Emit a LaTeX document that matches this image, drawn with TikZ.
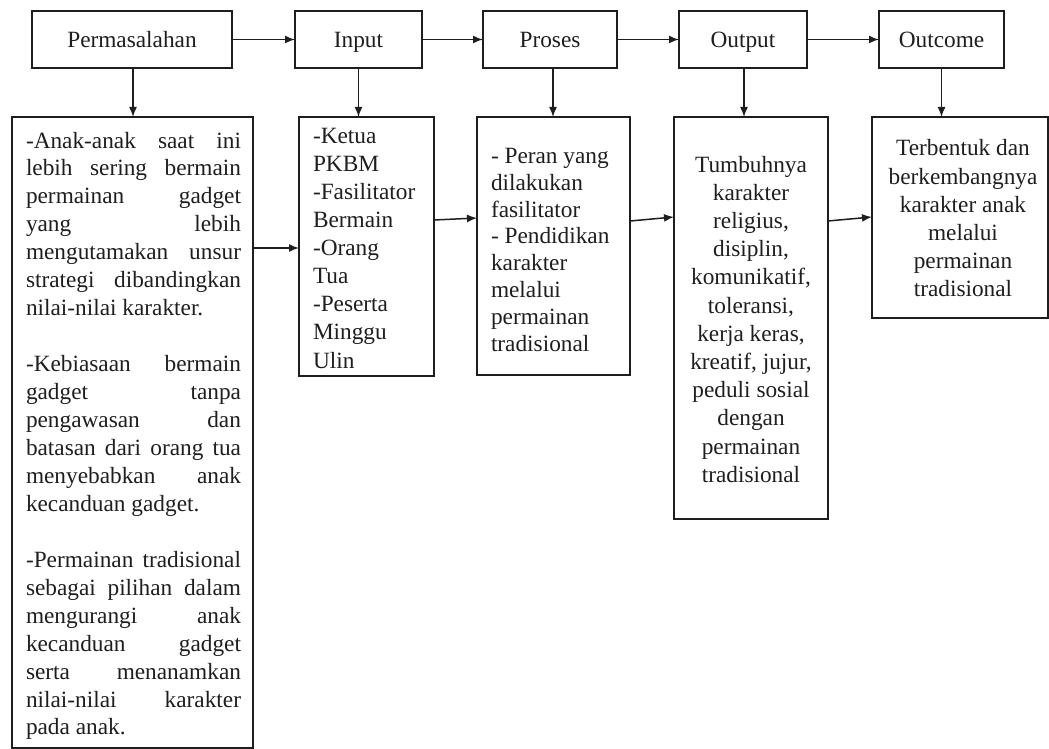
\documentclass[tikz,border=0pt]{standalone}
\usepackage{fontspec}
\setmainfont{Liberation Serif}
\usetikzlibrary{arrows.meta,calc}
\definecolor{ink}{HTML}{1E1E1E}
\newcommand\bfnt[1]{\fontsize{23.3pt}{#1}\selectfont}
\newcommand\jl[1]{\hbox to 215pt{#1}}
\tikzset{
  box/.style={draw=ink, line width=1.7pt, rectangle, inner sep=0pt, outer sep=0pt},
  topbox/.style={box, minimum height=57pt, text height=15.5pt, text depth=0pt, font=\bfnt{28pt}, text=ink},
  txt/.style={inner sep=0pt, outer sep=0pt, text=ink},
  arr/.style={draw=ink, line width=1.5pt, -{Latex[length=10pt,width=8pt]}}
}
\begin{document}
\begin{tikzpicture}[x=1pt,y=-1pt]
\useasboundingbox (0,0) rectangle (1049,749);
% top row
\node[topbox, minimum width=200pt] (p) at (132,39.5) {Permasalahan};
\node[topbox, minimum width=127pt] (i) at (358.5,39.5) {Input};
\node[topbox, minimum width=134pt] (pr) at (550,39.5) {Proses};
\node[topbox, minimum width=128pt] (o) at (743,39.5) {Output};
\node[topbox, minimum width=125pt] (oc) at (941.5,39.5) {Outcome};
% bottom boxes
\node[box, minimum width=241pt, minimum height=631pt] (b1) at (132.5,432.5) {};
\node[box, minimum width=135pt, minimum height=259pt] (b2) at (366.5,246.5) {};
\node[box, minimum width=153pt, minimum height=258pt] (b3) at (553.5,246) {};
\node[box, minimum width=154pt, minimum height=402pt] (b4) at (751,318) {};
\node[box, minimum width=176pt, minimum height=201pt] (b5) at (960,217.5) {};
% texts
\node[txt, anchor=base west] (t1) at (26,148) {\parbox[t]{215pt}{\bfnt{27.95pt}%
\jl{-Anak-anak\hfill saat\hfill ini}
\jl{lebih\hfill sering\hfill bermain}
\jl{permainan\hfill gadget}
\jl{yang\hfill lebih}
\jl{mengutamakan\hfill unsur}
\jl{strategi\hfill dibandingkan}
\hbox{nilai-nilai karakter.}
\hbox{}
\jl{-Kebiasaan\hfill bermain}
\jl{gadget\hfill tanpa}
\jl{pengawasan\hfill dan}
\jl{batasan\hfill dari\hfill orang\hfill tua}
\jl{menyebabkan\hfill anak}
\hbox{kecanduan gadget.}
\hbox{}
\jl{-Permainan\hfill tradisional}
\jl{sebagai\hfill pilihan\hfill dalam}
\jl{mengurangi\hfill anak}
\jl{kecanduan\hfill gadget}
\jl{serta\hfill menanamkan}
\jl{nilai-nilai\hfill karakter}
\hbox{pada anak.}}};
\node[txt, anchor=base west] (t2) at (313,143.3) {\parbox[t]{120pt}{\bfnt{28.1pt}\raggedright
-Ketua\\PKBM\\-Fasilitator\\Bermain\\-Orang\\Tua\\-Peserta\\Minggu\\Ulin}};
\node[txt, anchor=base west] (t3) at (491,163.3) {\parbox[t]{135pt}{\bfnt{26.9pt}\raggedright
- Peran yang\\dilakukan\\fasilitator\\- Pendidikan\\karakter\\melalui\\permainan\\tradisional}};
\node[txt, anchor=base] (t4) at (751,172) {\parbox[t]{150pt}{\bfnt{28.2pt}\centering
Tumbuhnya\\karakter\\religius,\\disiplin,\\komunikatif,\\toleransi,\\kerja keras,\\kreatif, jujur,\\peduli sosial\\dengan\\permainan\\tradisional}};
\node[txt, anchor=base] (t5) at (963,156) {\parbox[t]{170pt}{\bfnt{28.2pt}\centering
Terbentuk dan\\berkembangnya\\karakter anak\\melalui\\permainan\\tradisional}};
% top arrows
\draw[arr] (p.east) -- (i.west);
\draw[arr] (i.east) -- (pr.west);
\draw[arr] (pr.east) -- (o.west);
\draw[arr] (o.east) -- (oc.west);
% down arrows
\draw[arr] ([xshift=1pt]p.south) -- ([xshift=1pt]p.south |- b1.north);
\draw[arr] (i.south) -- (i.south |- b2.north);
\draw[arr] ([xshift=3pt]pr.south) -- ([xshift=3pt]pr.south |- b3.north);
\draw[arr] ([xshift=1pt]o.south) -- ([xshift=1pt]o.south |- b4.north);
\draw[arr] (oc.south) -- (oc.south |- b5.north);
% bottom arrows
\draw[arr] ($(b1.north east)+(0,131)$) -- ($(b2.north west)+(0,131)$);
\draw[arr] ($(b2.north east)+(0,103)$) -- ($(b3.north west)+(0,101)$);
\draw[arr] ($(b3.north east)+(0,104)$) -- ($(b4.north west)+(0,100)$);
\draw[arr] ($(b4.north east)+(0,104)$) -- ($(b5.north west)+(0,100)$);
\end{tikzpicture}
\end{document}
